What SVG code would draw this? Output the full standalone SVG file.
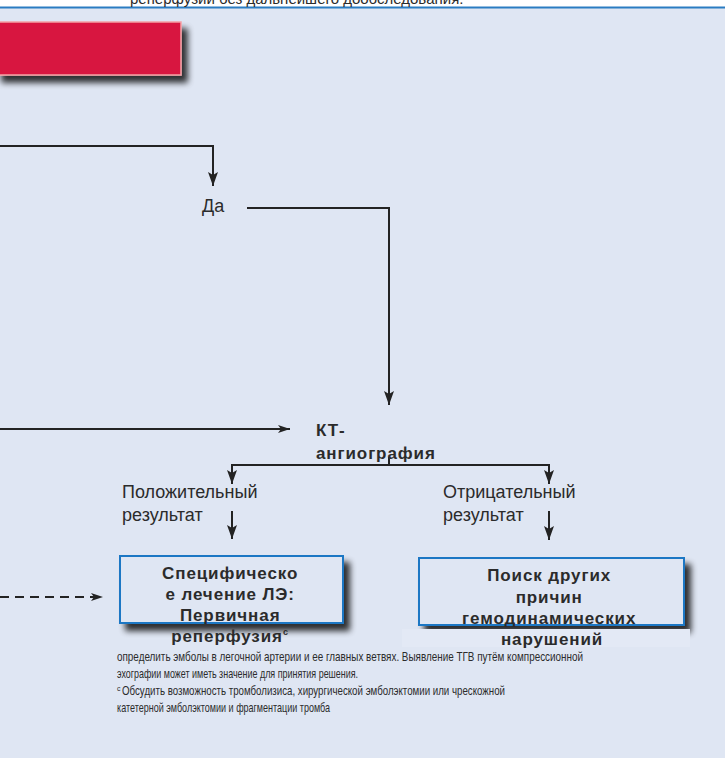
<svg xmlns="http://www.w3.org/2000/svg" width="725" height="758" viewBox="0 0 725 758">
  <defs>
    <style>
      .bg { fill: #dfe6f3; }
      .wire { fill: none; stroke: #232323; stroke-width: 2; }
      .dash { fill: none; stroke: #232323; stroke-width: 2; stroke-dasharray: 9 6; }
      .lbl { font-family: "Liberation Sans", Arial, sans-serif; font-size: 18px; fill: #2b2b2b; }
      .bold { font-family: "Liberation Sans", Arial, sans-serif; font-size: 17px; font-weight: bold; fill: #2b2b2b; letter-spacing: 0.9px; }
      .note { font-family: "Liberation Sans", Arial, sans-serif; font-size: 13.5px; fill: #2b2b2b; }
      .box { fill: #dfe6f3; stroke: #1f77c4; stroke-width: 2; }
    </style>
    <filter id="shadow" x="-20%" y="-20%" width="150%" height="160%">
      <feGaussianBlur in="SourceAlpha" stdDeviation="3"/>
      <feOffset dx="6" dy="7" result="blur"/>
      <feComponentTransfer><feFuncA type="linear" slope="0.8"/></feComponentTransfer>
      <feMerge><feMergeNode/><feMergeNode in="SourceGraphic"/></feMerge>
    </filter>
    <!-- solid notched arrowhead, drawn along +x and turned with the line -->
    <marker id="head" viewBox="0 0 14 10" refX="14" refY="5" markerWidth="14" markerHeight="10" markerUnits="userSpaceOnUse" orient="auto">
      <path d="M0,0 L14,5 L0,10 L3,5 z" fill="#232323"/>
    </marker>
    <marker id="headH" viewBox="0 0 12 8" refX="12" refY="4" markerWidth="12" markerHeight="8" markerUnits="userSpaceOnUse" orient="auto">
      <path d="M0,0 L12,4 L0,8 L3,4 z" fill="#232323"/>
    </marker>
  </defs>

  <!-- page: white strip with the blue rule, then the tinted panel -->
  <rect x="0" y="0" width="725" height="758" fill="#ffffff"/>
  <rect class="bg" x="0" y="8" width="725" height="750"/>
  <line x1="0" y1="7.5" x2="725" y2="7.5" stroke="#2a7cc2" stroke-width="2"/>
  <text class="lbl" x="130" y="4" style="font-size:15px">реперфузии без дальнейшего дообследования.</text>

  <!-- red banner -->
  <g id="banner">
    <rect x="-4" y="22" width="185" height="53" fill="#d8143f" stroke="#f4a3a6" stroke-width="1.5" filter="url(#shadow)"/>
  </g>

  <!-- connectors -->
  <g id="connectors">
    <path class="wire" d="M0,146 H213 V186" marker-end="url(#head)"/>
    <path class="wire" d="M247,208 H389 V405" marker-end="url(#head)"/>
    <path class="wire" d="M0,429 H290" marker-end="url(#headH)"/>
    <path class="wire" d="M389,457 V465 H232 V484" marker-end="url(#head)"/>
    <path class="wire" d="M389,465 H549 V484" marker-end="url(#head)"/>
    <path class="wire" d="M232,511 V539" marker-end="url(#head)"/>
    <path class="wire" d="M549,511 V540" marker-end="url(#head)"/>
    <path class="dash" d="M0,597 H103" marker-end="url(#headH)"/>
  </g>

  <g id="yes">
    <text class="lbl" x="202" y="212">Да</text>
  </g>

  <g id="ct">
    <text class="bold" x="316" y="436">КТ-</text>
    <text class="bold" x="316" y="459">ангиография</text>
  </g>

  <g id="positive">
    <text class="lbl" x="122" y="498">Положительный</text>
    <text class="lbl" x="122" y="521">результат</text>
  </g>

  <g id="negative">
    <text class="lbl" x="443" y="498">Отрицательный</text>
    <text class="lbl" x="443" y="521">результат</text>
  </g>

  <g id="treatment">
    <rect class="box" x="120" y="556" width="223" height="67" filter="url(#shadow)"/>
    <text class="bold" text-anchor="middle">
      <tspan x="233" y="579">Специфическо</tspan>
      <tspan x="233" y="600">е  лечение ЛЭ:</tspan>
      <tspan x="233" y="621">Первичная</tspan>
      <tspan x="230" y="642">реперфузия<tspan style="font-size:9px" dy="-7">c</tspan></tspan>
    </text>
  </g>

  <g id="other-causes">
    <rect class="box" x="419" y="558" width="265" height="67" filter="url(#shadow)"/>
    <rect x="402" y="629" width="288" height="18" fill="#e3e9f5"/>
    <text class="bold" text-anchor="middle">
      <tspan x="552" y="581">Поиск других</tspan>
      <tspan x="552" y="603">причин</tspan>
      <tspan x="552" y="624">гемодинамических</tspan>
      <tspan x="552" y="645">нарушений</tspan>
    </text>
  </g>

  <g id="notes">
    <text class="note" x="117" y="661" textLength="466" lengthAdjust="spacingAndGlyphs">определить эмболы в легочной артерии и ее главных ветвях. Выявление ТГВ путём компрессионной</text>
    <text class="note" x="117" y="678" textLength="241" lengthAdjust="spacingAndGlyphs">эхографии  может иметь значение для принятия решения.</text>
    <text class="note" x="117" y="691" style="font-size:7px">c</text>
    <text class="note" x="122" y="695" textLength="383" lengthAdjust="spacingAndGlyphs">Обсудить возможность тромболизиса, хирургической эмболэктомии или чрескожной</text>
    <text class="note" x="117" y="712" textLength="213" lengthAdjust="spacingAndGlyphs">катетерной  эмболэктомии и фрагментации тромба</text>
  </g>
</svg>
